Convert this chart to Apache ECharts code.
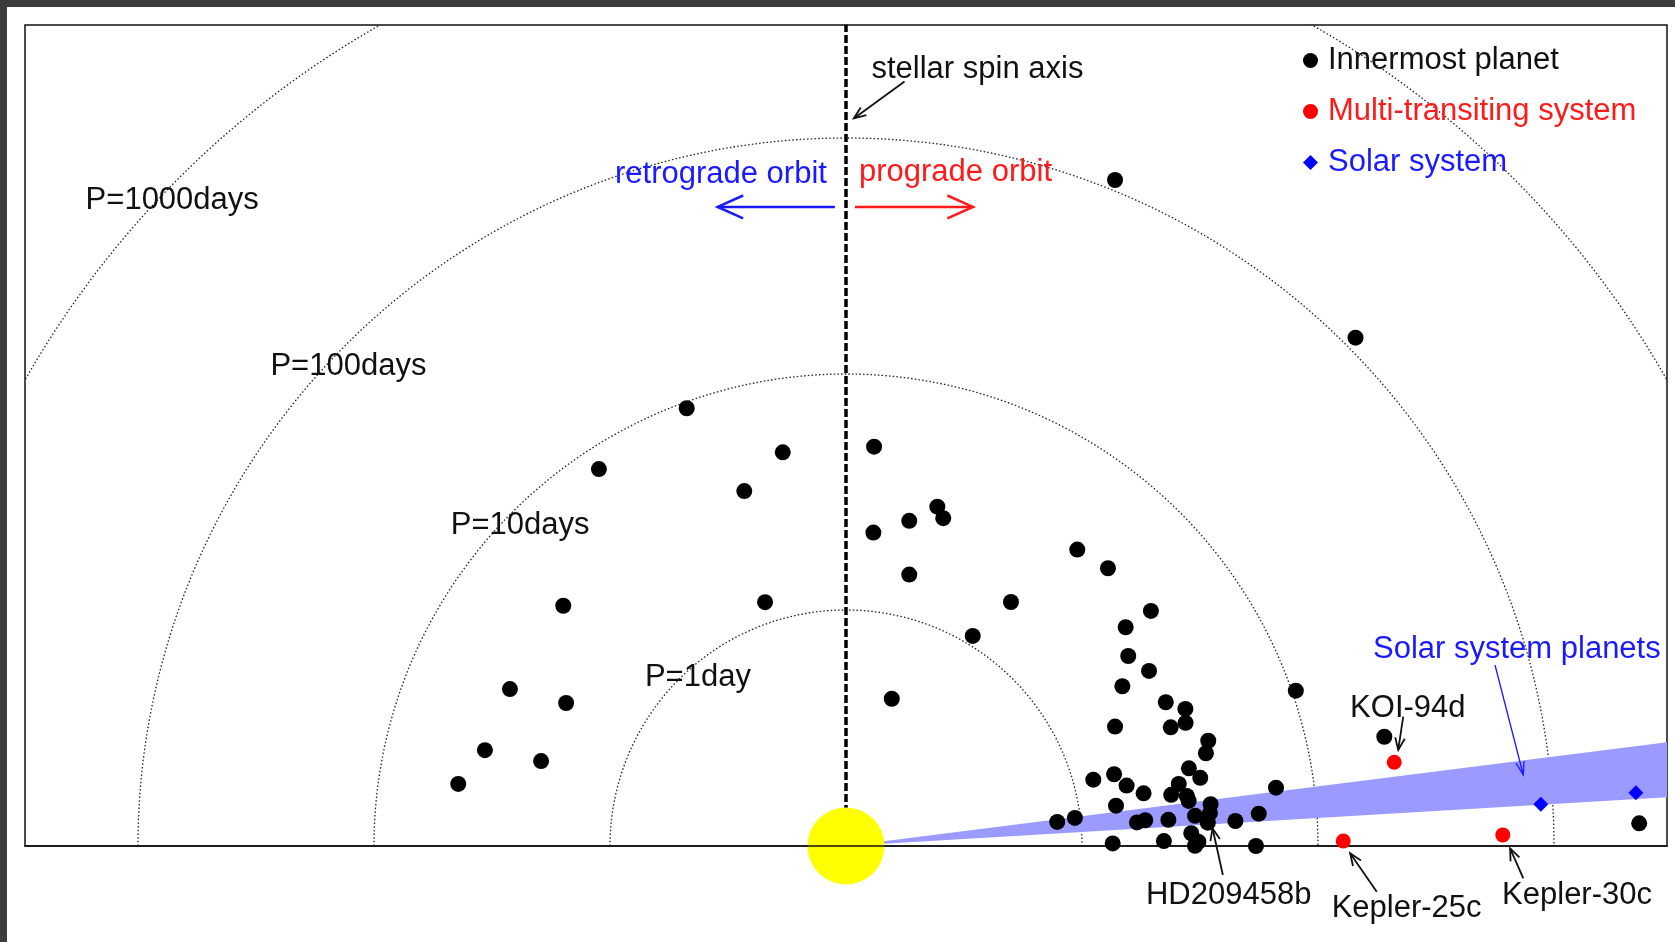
<!DOCTYPE html>
<html>

<head>
  <meta charset="utf-8">
  <title>Spin-orbit angles of innermost planets</title>
  <script src="https://cdn.jsdelivr.net/npm/echarts/dist/echarts.min.js"></script>
  <style>
    body {
      margin: 0;
      background: #fff;
    }

    #chart {
      width: 1675px;
      height: 942px;
    }
  </style>
</head>

<body>
  <div id="chart"></div>

  <script>
    // radius unit = one decade of period: r = 1 + log10(P / day), star at the origin,
    // stellar spin axis points up, prograde orbits to the right
    const orbitRadii = [1, 2, 3, 4];
    const periodLabels = ['P=1day', 'P=10days', 'P=100days', 'P=1000days'];
    const periodLabelPos = [[-0.852, 0.725], [-1.675, 1.367], [-2.439, 2.041], [-3.222, 2.746]];

    const innermost = [
      [-0.675, 1.855], [-1.047, 1.597], [-0.268, 1.668], [-0.431, 1.504], [-1.198, 1.018], [-0.343, 1.033],
      [-1.424, 0.665], [-1.186, 0.606], [-1.530, 0.406], [-1.292, 0.360], [-1.643, 0.263],
      [1.140, 2.822], [2.159, 2.154], [0.119, 1.692], [0.387, 1.438], [0.412, 1.389], [0.268, 1.378],
      [0.116, 1.328], [0.268, 1.150], [0.980, 1.256], [1.110, 1.177], [0.699, 1.034], [1.292, 0.996],
      [1.185, 0.927], [0.537, 0.890], [1.196, 0.805], [1.284, 0.742], [1.171, 0.677], [0.194, 0.624],
      [1.906, 0.658], [1.355, 0.609], [1.438, 0.581], [1.439, 0.522], [1.376, 0.503], [1.140, 0.506],
      [1.535, 0.446], [1.525, 0.393], [1.453, 0.329], [1.501, 0.289], [1.048, 0.281], [1.136, 0.304],
      [1.189, 0.256], [1.261, 0.223], [1.410, 0.263], [1.378, 0.217], [1.444, 0.212], [1.452, 0.191],
      [1.822, 0.247], [1.144, 0.171], [1.545, 0.177], [1.542, 0.139], [0.895, 0.102], [0.970, 0.119],
      [1.233, 0.100], [1.268, 0.109], [1.366, 0.111], [1.479, 0.128], [1.533, 0.099], [1.650, 0.106],
      [1.749, 0.137], [1.463, 0.054], [1.493, 0.018], [1.479, 0.001], [1.130, 0.011], [1.347, 0.021],
      [1.737, 0.000], [2.281, 0.463], [3.361, 0.096]
    ];
    const multiTransiting = [[2.323, 0.355], [2.107, 0.021], [2.783, 0.047]];
    const solarSystem = [[2.944, 0.177], [3.347, 0.226]];
    // inclination range of the solar system planets to the solar equator, degrees
    const solarBand = [3.4, 7.2];
    const spinAxis = [[0, 0], [0, 3.48]];

    const blackNotes = ['stellar spin axis', 'KOI-94d', 'HD209458b', 'Kepler-25c', 'Kepler-30c'];
    const blackNotePos = [[0.108, 3.302], [2.136, 0.593], [1.271, -0.199], [2.058, -0.256], [2.780, -0.198]];
    const blueNotes = ['retrograde orbit', 'Solar system planets'];
    const blueNotePos = [[-0.979, 2.856], [2.233, 0.845]];
    const redNotes = ['prograde orbit'];
    const redNotePos = [[0.055, 2.864]];

    // arrows: [fromX, fromY, toX, toY]
    const retroArrow = [[-0.047, 2.708, -0.544, 2.708]];
    const progArrow = [[0.038, 2.708, 0.538, 2.708]];
    const blackPointers = [
      [0.248, 3.239, 0.033, 3.083], [2.361, 0.548, 2.340, 0.407], [1.597, -0.123, 1.553, 0.075],
      [2.249, -0.194, 2.136, -0.031], [2.870, -0.137, 2.814, -0.010]
    ];
    const bluePointers = [[2.750, 0.767, 2.870, 0.301]];

    const FONT = '"Liberation Sans", Arial, sans-serif';
    const EXT = 3.4788;

    function textSeries(labels, pos, color) {
      return {
        type: 'custom', silent: true, z: 6,
        data: pos,
        renderItem: (params, api) => {
          const p = api.coord([api.value(0), api.value(1)]);
          return {
            type: 'text', x: p[0], y: p[1] + 2.5,
            style: {
              text: labels[params.dataIndex], fill: color, fontSize: 31, fontFamily: FONT,
              align: 'left', verticalAlign: 'middle'
            }
          };
        }
      };
    }

    function arrowSeries(data, color, width, head, spread) {
      return {
        type: 'custom', silent: true, z: 6,
        data: data,
        renderItem: (params, api) => {
          const a = api.coord([api.value(0), api.value(1)]);
          const b = api.coord([api.value(2), api.value(3)]);
          const ang = Math.atan2(b[1] - a[1], b[0] - a[0]);
          const h1 = [b[0] - head * Math.cos(ang - spread), b[1] - head * Math.sin(ang - spread)];
          const h2 = [b[0] - head * Math.cos(ang + spread), b[1] - head * Math.sin(ang + spread)];
          return {
            type: 'group',
            children: [
              { type: 'line', shape: { x1: a[0], y1: a[1], x2: b[0], y2: b[1] }, style: { stroke: color, lineWidth: width } },
              { type: 'polyline', shape: { points: [h1, b, h2] }, style: { stroke: color, lineWidth: width, fill: null } }
            ]
          };
        }
      };
    }

    const chart = echarts.init(document.getElementById('chart'));
    chart.setOption({
      animation: false,
      backgroundColor: '#fff',
      graphic: [
        { type: 'rect', silent: true, shape: { x: 0, y: 0, width: 1675, height: 7 }, style: { fill: '#3c3c3c' } },
        { type: 'rect', silent: true, shape: { x: 0, y: 0, width: 7, height: 942 }, style: { fill: '#3c3c3c' } }
      ],
      grid: { left: 25, top: 25, right: 8, bottom: 96, show: true, borderColor: '#111', borderWidth: 1.5 },
      xAxis: {
        type: 'value', min: -EXT, max: EXT, z: 4,
        axisLine: { show: true, onZero: false, lineStyle: { color: '#111', width: 1.5 } },
        axisTick: { show: false }, axisLabel: { show: false }, splitLine: { show: false }
      },
      yAxis: {
        type: 'value', min: 0, max: EXT,
        axisLine: { show: false }, axisTick: { show: false }, axisLabel: { show: false }, splitLine: { show: false }
      },
      legend: {
        orient: 'vertical', left: 1298, top: 40, itemWidth: 15, itemHeight: 15, itemGap: 20,
        selectedMode: false,
        textStyle: { fontSize: 31, fontFamily: FONT, lineHeight: 30, padding: [0, 0, 0, 5] },
        data: [
          { name: 'Innermost planet', textStyle: { color: '#111' } },
          { name: 'Multi-transiting system', textStyle: { color: '#ff1a1a' } },
          { name: 'Solar system', textStyle: { color: '#1a1aff' } }
        ]
      },
      series: [
        {
          // period circles
          type: 'custom', silent: true, z: 1, clip: true,
          data: orbitRadii.map(r => [r]),
          renderItem: (params, api) => {
            const c = api.coord([0, 0]);
            const r = api.size([api.value(0), 0])[0];
            return {
              type: 'arc',
              shape: { cx: c[0], cy: c[1], r: r, startAngle: Math.PI, endAngle: 2 * Math.PI },
              style: { stroke: '#222', lineWidth: 1.3, lineDash: [1.5, 2.2], fill: null }
            };
          }
        },
        {
          type: 'line', silent: true, z: 1, symbol: 'none', data: spinAxis,
          lineStyle: { color: '#000', width: 3.5, type: [8, 3] }
        },
        {
          // solar system planets band
          type: 'custom', silent: true, z: 2, clip: true,
          data: [solarBand],
          renderItem: (params, api) => {
            const a0 = api.value(0) * Math.PI / 180, a1 = api.value(1) * Math.PI / 180;
            const R = 6;
            return {
              type: 'polygon',
              shape: {
                points: [api.coord([0, 0]), api.coord([R * Math.cos(a0), R * Math.sin(a0)]),
                api.coord([R * Math.cos(a1), R * Math.sin(a1)])]
              },
              style: { fill: '#9a9aff' }
            };
          }
        },
        {
          // the star
          type: 'scatter', silent: true, z: 3, clip: false, data: [[0, 0]],
          symbolSize: 77, itemStyle: { color: '#ffff00', opacity: 1 }
        },
        {
          name: 'Innermost planet', type: 'scatter', z: 5, clip: false, data: innermost,
          symbol: 'circle', symbolSize: 16, itemStyle: { color: '#000', opacity: 1 }
        },
        {
          name: 'Multi-transiting system', type: 'scatter', z: 5, clip: false, data: multiTransiting,
          symbol: 'circle', symbolSize: 15, itemStyle: { color: '#ff0000', opacity: 1 }
        },
        {
          name: 'Solar system', type: 'scatter', z: 5, clip: false, data: solarSystem,
          symbol: 'diamond', symbolSize: 15, itemStyle: { color: '#0000ff', opacity: 1 }
        },
        textSeries(periodLabels, periodLabelPos, '#111'),
        textSeries(blackNotes, blackNotePos, '#111'),
        textSeries(blueNotes, blueNotePos, '#1a1aff'),
        textSeries(redNotes, redNotePos, '#ff1a1a'),
        arrowSeries(retroArrow, '#1a1aff', 2.5, 28, 0.42),
        arrowSeries(progArrow, '#ff1a1a', 2.5, 28, 0.42),
        arrowSeries(blackPointers, '#111', 1.8, 13, 0.38),
        arrowSeries(bluePointers, '#1a1aff', 1.3, 14, 0.3)
      ]
    });
  </script>
</body>

</html>
